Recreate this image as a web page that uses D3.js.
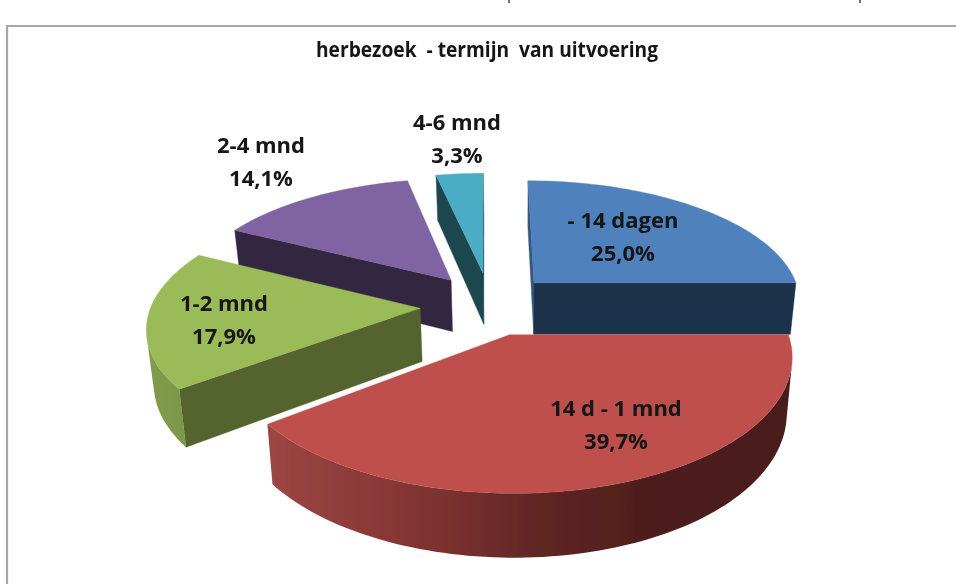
<!DOCTYPE html>
<html><head><meta charset="utf-8">
<script src="https://cdn.jsdelivr.net/npm/d3@7/dist/d3.min.js"></script>
<style>html,body{margin:0;padding:0;background:#fff;overflow:hidden}svg{display:block}</style>
</head><body><svg id="c" width="956" height="584"></svg>
<script>
// ---- data
const categories = ["- 14 dagen", "14 d - 1 mnd", "1-2 mnd", "2-4 mnd", "4-6 mnd"];
const values = [25.0, 39.7, 17.9, 14.1, 3.3];
const title = "herbezoek  - termijn  van uitvoering";

// ---- styling
const topColors  = ["#4f81bd", "#bf504d", "#9bbb59", "#8064a2", "#4bacc6"];
const wallColors = ["#1f334b", "#4a1d1b", "#54632d", "#33283f", "#1f4650"];
const startWallColors = ["#35577f", "#4a1d1b", "#54632d", "#33283f", "#1f4650"];
const rimStops = [
  [[200,900],["#2f4d72","#2f4d72"]],
  [[268,400,550,650,800],["#9c4644","#863634","#5e2523","#4e1e1c","#4a1d1b"]],
  [[148,190],["#819c4c","#7c964a"]],
  [[200,900],["#4d3c61","#4d3c61"]],
  [[200,900],["#2d6776","#2d6776"]]
];
// slice displacement on the pie's ground plane
const explode = [[50,0],[24,111],[-62,56],[-33,-6],[-1,-22]];
const radiiX = [262,263,262,262,262];
const radiiZ = [262,271,262,262,262];
const labelAt = [[623,228],[616,416],[224,311],[261,153],[457,130]];
const paintOrder = [4,3,0,2,1];

// ---- perspective camera
const vx = 484, vy = -570, W0 = 853, H = 1645000, D = 1929, depth = 0.0605, sx = 0.98, sc = 520;
function top3(X, Z){ const w = H/(D-Z); return [vx + X*w/W0, vy + w, w]; }
function base3(p){ return [sc + (p[0]-sc)*sx, p[1] + depth*p[2]]; }
const line = d3.line().curve(d3.curveLinearClosed);
const area2 = q => { let s=0; q.forEach((p,i)=>{const n=q[(i+1)%q.length]; s+=p[0]*n[1]-n[0]*p[1];}); return s/2; };

const svg = d3.select("#c");
const defs = svg.append("defs");
defs.append("filter").attr("id","soft").attr("x","-5%").attr("y","-5%").attr("width","110%").attr("height","110%")
  .append("feGaussianBlur").attr("stdDeviation",0.55);
const root = svg.append("g").attr("filter","url(#soft)");
root.append("rect").attr("width",956).attr("height",584).attr("fill","#fff");

// frame
root.append("path").attr("d","M7,584V26H956").attr("fill","none").attr("stroke","#a6a6a6").attr("stroke-width",2.2);
// cropped descenders of the text above the chart
root.append("path").attr("d","M509,0V3M860,0V3").attr("stroke","#333").attr("stroke-width",1.4);

const arcs = d3.pie().sort(null).startAngle(0).endAngle(2*Math.PI)(values);

paintOrder.forEach(i => {
  const a = arcs[i], [ox,oz] = explode[i];
  const pt = t => top3(ox + radiiX[i]*Math.sin(t), oz - radiiZ[i]*Math.cos(t));
  const apex = top3(ox,oz);
  const n = Math.max(4, Math.ceil((a.endAngle-a.startAngle)/(Math.PI/120)));
  const ts = d3.range(n+1).map(k => a.startAngle + (a.endAngle-a.startAngle)*k/n);
  const rim = ts.map(pt);
  const g = root.append("g");

  // horizontal gradient for the outer rim
  const [dom,rng] = rimStops[i];
  const gid = "rim"+i;
  const grad = defs.append("linearGradient").attr("id",gid).attr("gradientUnits","userSpaceOnUse")
    .attr("x1",dom[0]).attr("x2",dom[dom.length-1]).attr("y1",0).attr("y2",0);
  const off = d3.scaleLinear().domain([dom[0],dom[dom.length-1]]).range([0,1]);
  dom.forEach((d,k)=>grad.append("stop").attr("offset",off(d)).attr("stop-color",rng[k]));

  const wall = (p,q,c) => {
    const quad = [p,q,base3(q),base3(p)].map(d=>[d[0],d[1]]);
    if (area2(quad) < 0) g.append("path").attr("d",line(quad)).attr("fill",c).attr("stroke",c).attr("stroke-width",0.4);
  };
  wall(apex, rim[0], startWallColors[i]);
  const visible = d3.pairs(rim).filter(([p,q]) => area2([p,q,base3(q),base3(p)].map(d=>[d[0],d[1]])) < 0);
  if (visible.length) {
    const up = [visible[0][0], ...visible.map(v=>v[1])];
    const poly = [...up.map(d=>[d[0],d[1]]), ...up.slice().reverse().map(base3)];
    g.append("path").attr("d",line(poly)).attr("fill",`url(#${gid})`);
  }
  wall(rim[n], apex, wallColors[i]);
  g.append("path").attr("d",line([apex,...rim].map(d=>[d[0],d[1]]))).attr("fill",topColors[i]).attr("stroke",topColors[i]).attr("stroke-width",0.4);
});

// labels
const fmt = v => d3.format(".1f")(v).replace(".",",") + "%";
categories.forEach((c,i) => {
  const t = root.append("text").attr("text-anchor","middle")
    .attr("font-family","'Open Sans'").attr("font-weight",700).attr("font-size",22).attr("fill","#141414");
  t.append("tspan").attr("x",labelAt[i][0]).attr("y",labelAt[i][1]).text(c);
  t.append("tspan").attr("x",labelAt[i][0]).attr("y",labelAt[i][1]+33).text(fmt(values[i]));
});
root.append("text").attr("x",487).attr("y",57).attr("text-anchor","middle")
  .attr("font-family","'Open Sans'").attr("font-weight",700).attr("font-size",22).attr("fill","#141414")
  .style("white-space","pre")
  .attr("textLength",342).attr("lengthAdjust","spacingAndGlyphs").text(title);
</script></body></html>
